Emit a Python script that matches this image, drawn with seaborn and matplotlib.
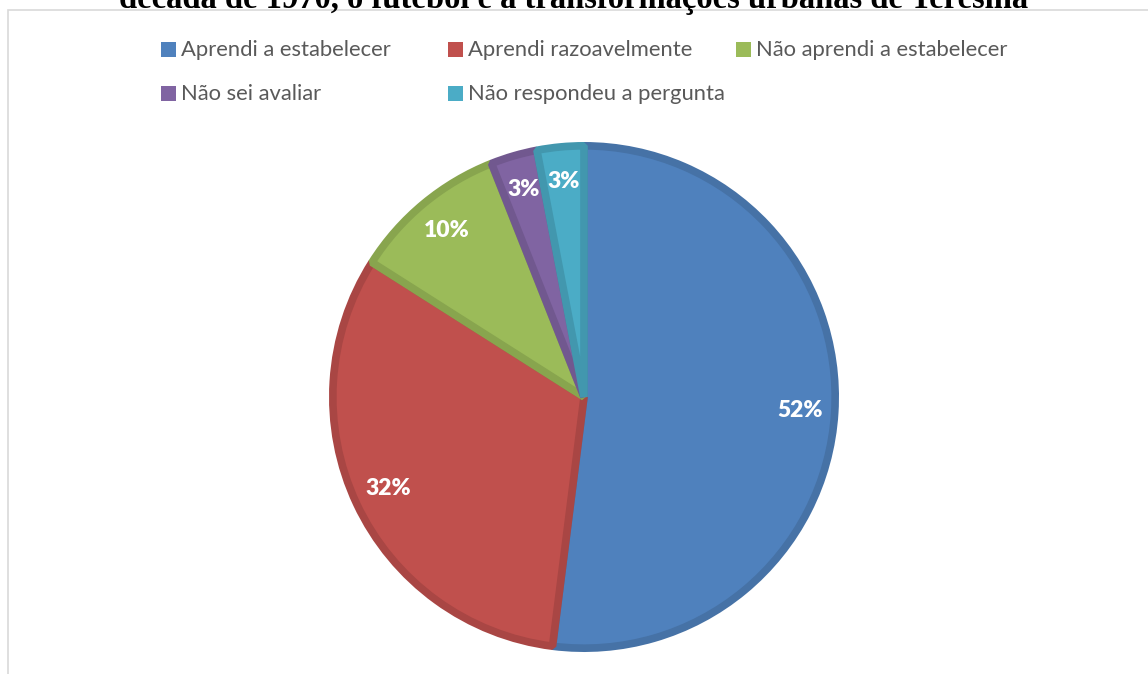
import seaborn as sns
import matplotlib.pyplot as plt
import matplotlib.colors as mcolors
from matplotlib.patches import Rectangle

# data
categories = ['Aprendi a estabelecer', 'Aprendi razoavelmente', 'Não aprendi a estabelecer',
              'Não sei avaliar', 'Não respondeu a pergunta']
percent = [52, 32, 10, 3, 3]
colors = ['#4F81BD', '#C0504D', '#9BBB59', '#8064A2', '#4BACC6']
title = 'década de 1970, o futebol e a transformações urbanas de Teresina'

sns.set_theme(style='white')
plt.rcParams['font.family'] = ['Lato', 'DejaVu Sans']

W, H = 1148, 674
fig = plt.figure(figsize=(W / 100, H / 100), dpi=100)

# chart frame
fig.patches.append(Rectangle((8 / W, -0.1), 1.2, 1 - 10 / H + 0.1, transform=fig.transFigure,
                             fill=False, edgecolor='#D9D9D9', linewidth=1.2))

# title, cut off at the top like the source
fig.text(574 / W, 1 - 8 / H, title, ha='center', va='baseline', fontsize=23.5,
         fontweight='bold', family='Liberation Serif', color='black')

# pie
cx, cy, r = 584, 397, 255
ax = fig.add_axes([(cx - r) / W, (H - cy - r) / H, 2 * r / W, 2 * r / H])
wedges, texts, autotexts = ax.pie(percent, colors=colors, startangle=90, counterclock=False,
                                  autopct='%1.0f%%', pctdistance=0.86, radius=0.985,
                                  wedgeprops=dict(linewidth=5.5),
                                  textprops=dict(color='white', fontsize=16.5, fontweight='heavy'))
for w, c in zip(wedges, colors):
    w.set_edgecolor(mcolors.to_hex([v * 0.88 for v in mcolors.to_rgb(c)]))
    w.set_joinstyle('bevel')
ax.set_xlim(-1, 1)
ax.set_ylim(-1, 1)
ax.set_aspect('equal')

# legend, laid out like the Excel legend
col_x = [161, 448, 736]
row_y = [50, 94]
for i, (lab, c) in enumerate(zip(categories, colors)):
    x = col_x[i % 3]
    y = row_y[i // 3]
    fig.patches.append(Rectangle((x / W, (H - y - 7) / H), 15 / W, 15 / H,
                                 transform=fig.transFigure, facecolor=c, edgecolor='none'))
    fig.text((x + 20) / W, (H - y) / H, lab, ha='left', va='center', fontsize=15.8,
             color='#595959')

fig.savefig('out.png', dpi=100)
